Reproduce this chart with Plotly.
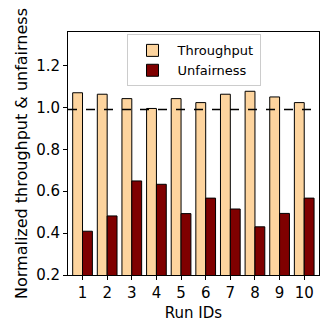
import plotly.graph_objects as go

RUNS = [1, 2, 3, 4, 5, 6, 7, 8, 9, 10]
THROUGHPUT = [1.07, 1.063, 1.042, 0.995, 1.042, 1.023, 1.063, 1.077, 1.05, 1.023]
UNFAIRNESS = [0.409, 0.482, 0.649, 0.633, 0.493, 0.567, 0.515, 0.43, 0.494, 0.567]
BASELINE = 0.99

LARANJA = "#FDD49E"
GRENA = "#7F0000"
FONTE = "DejaVu Sans"

fig = go.Figure()
fig.add_bar(
    x=[r - 0.2 for r in RUNS],
    y=THROUGHPUT,
    width=0.4,
    name="Throughput",
    marker=dict(color=LARANJA, line=dict(color="black", width=1)),
)
fig.add_bar(
    x=[r + 0.2 for r in RUNS],
    y=UNFAIRNESS,
    width=0.4,
    name="Unfairness",
    marker=dict(color=GRENA, line=dict(color="black", width=1)),
)
fig.add_hline(y=BASELINE, line=dict(color="black", dash="dash", width=1.5))

eixo = dict(
    showline=True,
    linecolor="black",
    linewidth=1,
    mirror=True,
    ticks="outside",
    ticklen=4,
    tickcolor="black",
    showgrid=False,
    zeroline=False,
    automargin=False,
    tickfont=dict(size=15, color="black"),
)

# a página tem 8px de margem no body, por isso a figura é 324x324
fig.update_layout(
    width=324,
    height=324,
    margin=dict(l=60, r=13, t=24, b=57),
    plot_bgcolor="white",
    paper_bgcolor="white",
    font=dict(family=FONTE, color="black"),
    barmode="overlay",
    showlegend=True,
    legend=dict(
        x=0.5,
        y=0.99,
        xanchor="center",
        yanchor="top",
        bgcolor="rgba(255,255,255,0.8)",
        bordercolor="#cccccc",
        borderwidth=1,
        font=dict(size=13),
        itemwidth=40,
        tracegroupgap=0,
    ),
    xaxis=dict(
        eixo,
        range=[0.41, 10.6],
        tickvals=RUNS,
        title=dict(text="Run IDs", font=dict(size=15), standoff=6),
    ),
    yaxis=dict(
        eixo,
        range=[0.2, 1.36],
        tickvals=[0.2, 0.4, 0.6, 0.8, 1.0, 1.2],
        tickformat=".1f",
        title=dict(text="Normalized throughput & unfairness", font=dict(size=16), standoff=4),
    ),
)

fig.write_html("out.html")
